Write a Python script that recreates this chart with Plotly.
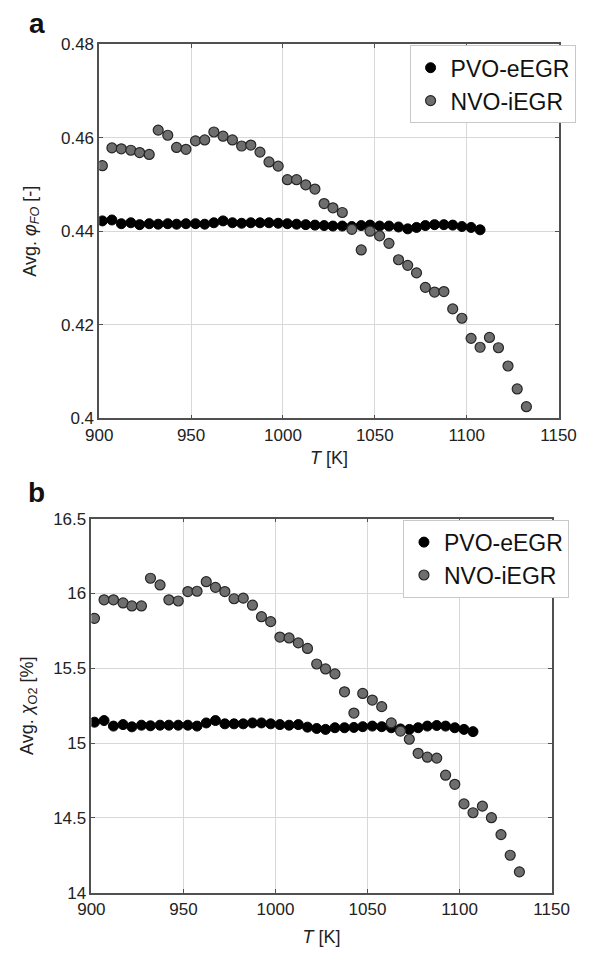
import plotly.graph_objects as go

# ---------------- data ----------------
T_nvo = [901.7, 906.9, 912.0, 917.2, 922.0, 927.2, 932.1, 937.3, 942.1, 947.2,
         952.4, 957.4, 962.4, 967.4, 972.5, 977.5, 982.5, 987.5, 992.4, 997.4,
         1002.4, 1007.4, 1012.4, 1017.4, 1022.4, 1027.2, 1032.3, 1037.5, 1042.6, 1047.4,
         1052.6, 1057.7, 1062.9, 1067.9, 1072.7, 1077.5, 1082.5, 1087.6, 1092.4, 1097.4,
         1102.4, 1107.3, 1112.4, 1117.3, 1122.5, 1127.5, 1132.5]
T_pvo = [901.7, 906.9, 912.0, 917.2, 922.0, 927.2, 932.1, 937.3, 942.1, 947.2,
         952.4, 957.4, 962.4, 967.4, 972.5, 977.5, 982.5, 987.5, 992.4, 997.4,
         1002.4, 1007.4, 1012.4, 1017.4, 1022.4, 1027.2, 1032.3, 1037.5, 1042.6, 1047.4,
         1052.6, 1057.7, 1062.9, 1067.9, 1072.7, 1077.5, 1082.5, 1087.6, 1092.4, 1097.4,
         1102.4, 1107.3]

phi_nvo = [0.4540, 0.4578, 0.4576, 0.4573, 0.4568, 0.4564, 0.4616, 0.4605, 0.4579, 0.4575,
           0.4593, 0.4595, 0.4612, 0.4603, 0.4595, 0.4582, 0.4584, 0.4569, 0.4548, 0.4539,
           0.4510, 0.4510, 0.4499, 0.4490, 0.4459, 0.4450, 0.4440, 0.4404, 0.4360, 0.4400,
           0.4390, 0.4374, 0.4339, 0.4327, 0.4311, 0.4280, 0.4270, 0.4271, 0.4234, 0.4214,
           0.4171, 0.4152, 0.4173, 0.4151, 0.4112, 0.4063, 0.4025]
phi_pvo = [0.4422, 0.4424, 0.4416, 0.4418, 0.4414, 0.4416, 0.4415, 0.4416, 0.4415, 0.4416,
           0.4416, 0.4415, 0.4418, 0.4422, 0.4418, 0.4417, 0.4418, 0.4418, 0.4418, 0.4417,
           0.4416, 0.4415, 0.4414, 0.4413, 0.4412, 0.4411, 0.4411, 0.4410, 0.4412, 0.4413,
           0.4411, 0.4411, 0.4409, 0.4405, 0.4408, 0.4412, 0.4414, 0.4414, 0.4413, 0.4410,
           0.4408, 0.4403]

o2_nvo = [15.834, 15.958, 15.958, 15.937, 15.917, 15.917, 16.102, 16.057, 15.958, 15.950,
          16.013, 16.015, 16.079, 16.041, 16.013, 15.965, 15.969, 15.922, 15.845, 15.812,
          15.709, 15.703, 15.670, 15.633, 15.529, 15.496, 15.463, 15.343, 15.201, 15.332,
          15.288, 15.244, 15.135, 15.081, 15.026, 14.932, 14.906, 14.900, 14.786, 14.725,
          14.594, 14.535, 14.579, 14.502, 14.389, 14.251, 14.140]
o2_pvo = [15.140, 15.151, 15.114, 15.124, 15.109, 15.120, 15.116, 15.120, 15.120, 15.120,
          15.120, 15.114, 15.135, 15.151, 15.129, 15.129, 15.129, 15.135, 15.135, 15.129,
          15.124, 15.120, 15.124, 15.107, 15.098, 15.092, 15.103, 15.103, 15.105, 15.110,
          15.114, 15.110, 15.103, 15.095, 15.092, 15.103, 15.114, 15.118, 15.114, 15.103,
          15.092, 15.077]

x_ticks = [900, 950, 1000, 1050, 1100, 1150]
y1_ticks = [0.40, 0.42, 0.44, 0.46, 0.48]
y1_labels = ["0.4", "0.42", "0.44", "0.46", "0.48"]
y2_ticks = [14.0, 14.5, 15.0, 15.5, 16.0, 16.5]
y2_labels = ["14", "14.5", "15", "15.5", "16", "16.5"]

# ---------------- figure ----------------
W, H = 604, 957
FONT = "Liberation Sans, Arial, sans-serif"

pvo_marker = dict(size=10, color="#000000", line=dict(color="#000000", width=1))
nvo_marker = dict(size=10, color="#6e6e6e", line=dict(color="#262626", width=1.2))

fig = go.Figure()
fig.add_trace(go.Scatter(x=T_pvo, y=phi_pvo, mode="markers", name="PVO-eEGR",
                         marker=pvo_marker, xaxis="x", yaxis="y", legend="legend"))
fig.add_trace(go.Scatter(x=T_nvo, y=phi_nvo, mode="markers", name="NVO-iEGR",
                         marker=nvo_marker, xaxis="x", yaxis="y", legend="legend"))
fig.add_trace(go.Scatter(x=T_pvo, y=o2_pvo, mode="markers", name="PVO-eEGR",
                         marker=pvo_marker, xaxis="x2", yaxis="y2", legend="legend2"))
fig.add_trace(go.Scatter(x=T_nvo, y=o2_nvo, mode="markers", name="NVO-iEGR",
                         marker=nvo_marker, xaxis="x2", yaxis="y2", legend="legend2"))

axis_common = dict(
    showline=True, linecolor="#505050", linewidth=1.5, mirror="ticks",
    ticks="inside", ticklen=4, tickcolor="#505050",
    showgrid=True, gridcolor="#d8d8d8", gridwidth=1, zeroline=False,
    tickfont=dict(family=FONT, size=17, color="#222222"),
)

def px_x(p):
    return p / W

def px_y(p):
    return 1 - p / H

fig.update_layout(
    width=W, height=H,
    margin=dict(l=0, r=0, t=0, b=0),
    paper_bgcolor="white", plot_bgcolor="white",
    font=dict(family=FONT, color="#222222"),
    xaxis=dict(axis_common, domain=[px_x(90), px_x(575)], range=[900, 1150],
               tickvals=x_ticks, anchor="y",
               title=dict(text="<i>T</i> [K]", font=dict(family=FONT, size=18, color="#222222"), standoff=8)),
    yaxis=dict(axis_common, domain=[px_y(417.7), px_y(35.7)], range=[0.40, 0.48],
               tickvals=y1_ticks, ticktext=y1_labels, anchor="x",
               title=dict(text="Avg. <i>φ</i><sub><i>FO</i></sub> [-]", font=dict(family=FONT, size=18, color="#222222"), standoff=20)),
    xaxis2=dict(axis_common, domain=[px_x(81.7), px_x(567.7)], range=[900, 1150],
                tickvals=x_ticks, anchor="y2",
                title=dict(text="<i>T</i> [K]", font=dict(family=FONT, size=18, color="#222222"), standoff=12)),
    yaxis2=dict(axis_common, domain=[px_y(901.7), px_y(520)], range=[14.0, 16.5],
                tickvals=y2_ticks, ticktext=y2_labels, anchor="x2",
                title=dict(text="Avg. <i>χ</i><sub>O2</sub> [%]", font=dict(family=FONT, size=18, color="#222222"), standoff=15)),
    legend=dict(x=px_x(593), xanchor="right", y=px_y(37), yanchor="top",
                bgcolor="white", bordercolor="#c8c8c8", borderwidth=1,
                font=dict(family=FONT, size=23, color="#111111"),
                itemwidth=30, tracegroupgap=0),
    legend2=dict(x=px_x(586), xanchor="right", y=px_y(521), yanchor="top",
                 bgcolor="white", bordercolor="#c8c8c8", borderwidth=1,
                 font=dict(family=FONT, size=23, color="#111111"),
                 itemwidth=30, tracegroupgap=0),
    annotations=[
        dict(text="<b>a</b>", x=px_x(24), y=px_y(15), xref="paper", yref="paper",
             xanchor="center", yanchor="middle", showarrow=False,
             font=dict(family=FONT, size=28, color="#111111")),
        dict(text="<b>b</b>", x=px_x(24), y=px_y(493), xref="paper", yref="paper",
             xanchor="center", yanchor="middle", showarrow=False,
             font=dict(family=FONT, size=28, color="#111111")),
    ],
)

fig.write_html("out.html")
